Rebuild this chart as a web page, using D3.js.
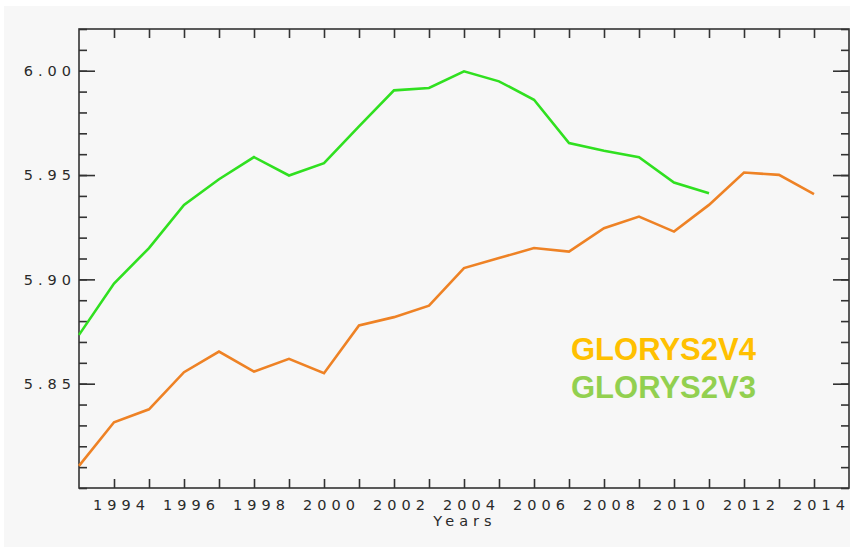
<!DOCTYPE html>
<html>
<head>
<meta charset="utf-8">
<title>GLORYS2V3 / GLORYS2V4</title>
<style>
  body { margin: 0; background: #fff; }
  .tick text, .lbl { font-family: "DejaVu Sans", sans-serif; font-size: 14.5px; fill: #2a2a2a; letter-spacing: 5px; }
  .legend { font-family: "Liberation Sans", Arial, sans-serif; font-weight: bold; font-size: 31px; }
</style>
</head>
<body>
<script src="https://d3js.org/d3.v7.min.js"></script>
<script>
// valores
var years = d3.range(1993, 2015);
var v4 = [5.8106, 5.8315, 5.8377, 5.8555, 5.8654, 5.8558, 5.8619, 5.8550, 5.8779, 5.8819, 5.8874,
          5.9054, 5.9102, 5.9150, 5.9133, 5.9245, 5.9301, 5.9229, 5.9357, 5.9512, 5.9501, 5.9409];
var v3 = [5.8734, 5.8980, 5.9150, 5.9357, 5.9480, 5.9586, 5.9498, 5.9557, 5.9733, 5.9906, 5.9917,
          5.9997, 5.9949, 5.9861, 5.9653, 5.9616, 5.9586, 5.9464, 5.9413];
var yTicks = [5.85, 5.90, 5.95, 6.00];

var width = 850, height = 547;
var mLeft = 79, mRight = 849, mTop = 29, mBottom = 488;

var svg = d3.select("body").append("svg")
  .attr("width", width)
  .attr("height", height);

// fondo gris claro
svg.append("rect").attr("x", 4).attr("y", 6).attr("width", width - 4).attr("height", height - 6)
  .attr("fill", "#f7f7f7");

var x = d3.scaleLinear().domain([1993, 2015]).range([mLeft, mRight]);
var y = d3.scaleLinear().domain([5.80, 6.02]).range([mBottom, mTop]);

var minor = d3.range(5.80, 6.0201, 0.01).map(function(d) { return +d.toFixed(2); });
var yearTicks = d3.range(1994, 2015);

// eje inferior
var gx = svg.append("g").attr("transform", "translate(0," + mBottom + ")")
  .call(d3.axisBottom(x).tickValues(yearTicks).tickSize(-9).tickPadding(12)
    .tickFormat(function(d) { return d % 2 == 0 ? d : ""; }));
gx.selectAll("text").attr("dx", 7);

// eje superior
svg.append("g").attr("transform", "translate(0," + mTop + ")")
  .call(d3.axisTop(x).tickValues(yearTicks).tickSize(-9).tickFormat(""));

// eje izquierdo: menores y mayores
svg.append("g").attr("transform", "translate(" + mLeft + ",0)")
  .call(d3.axisLeft(y).tickValues(minor).tickSize(-8).tickFormat(""));
svg.append("g").attr("transform", "translate(" + mLeft + ",0)")
  .call(d3.axisLeft(y).tickValues(yTicks).tickSize(-16).tickPadding(3).tickFormat(d3.format(".2f")));

// eje derecho
svg.append("g").attr("transform", "translate(" + mRight + ",0)")
  .call(d3.axisRight(y).tickValues(minor).tickSize(-8).tickFormat(""));
svg.append("g").attr("transform", "translate(" + mRight + ",0)")
  .call(d3.axisRight(y).tickValues(yTicks).tickSize(-16).tickFormat(""));

svg.selectAll(".domain").remove();
svg.selectAll(".tick line").attr("stroke", "#333").attr("stroke-width", 1.6);

// marco
svg.append("rect").attr("x", mLeft).attr("y", mTop).attr("width", mRight - mLeft).attr("height", mBottom - mTop)
  .attr("fill", "none").attr("stroke", "#333").attr("stroke-width", 1.6);

svg.append("text").attr("class", "lbl").attr("x", 465).attr("y", 526)
  .attr("text-anchor", "middle").text("Years");

var line = d3.line().x(function(d, i) { return x(years[i]); }).y(function(d) { return y(d); });

svg.append("path").datum(v3).attr("d", line)
  .attr("fill", "none").attr("stroke", "#30e020").attr("stroke-width", 2.6);
svg.append("path").datum(v4).attr("d", line)
  .attr("fill", "none").attr("stroke", "#ee8225").attr("stroke-width", 2.6);

svg.append("text").attr("class", "legend").attr("x", 571).attr("y", 360)
  .attr("fill", "#ffc000").text("GLORYS2V4");
svg.append("text").attr("class", "legend").attr("x", 571).attr("y", 398)
  .attr("fill", "#92d050").text("GLORYS2V3");
</script>
</body>
</html>
